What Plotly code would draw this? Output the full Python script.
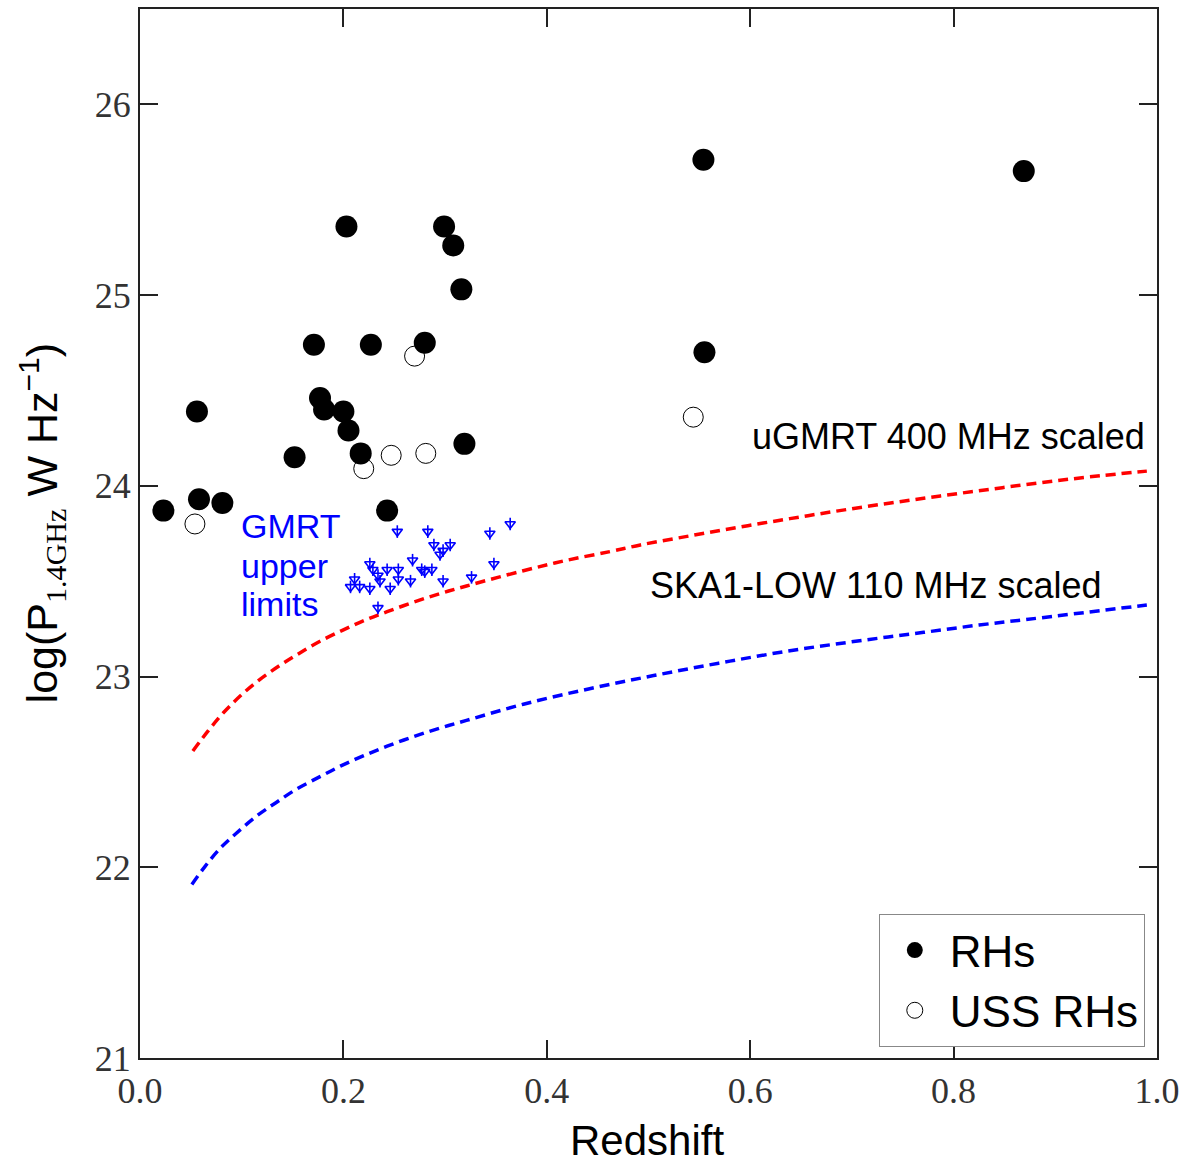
import plotly.graph_objects as go

# Radio halos (filled)
rh_z = [0.023, 0.056, 0.058, 0.081, 0.152, 0.171, 0.177, 0.181, 0.200, 0.205, 0.203,
        0.217, 0.227, 0.243, 0.299, 0.308, 0.316, 0.280, 0.319, 0.554, 0.555, 0.869]
rh_p = [23.87, 24.39, 23.93, 23.91, 24.15, 24.74, 24.46, 24.40, 24.39, 24.29, 25.36,
        24.17, 24.74, 23.87, 25.36, 25.26, 25.03, 24.75, 24.22, 25.71, 24.70, 25.65]

# USS radio halos (open)
uss_z = [0.054, 0.220, 0.247, 0.281, 0.270, 0.544]
uss_p = [23.80, 24.09, 24.16, 24.17, 24.68, 24.36]

# GMRT upper limits
ul_z = [0.253, 0.283, 0.344, 0.364, 0.289, 0.305, 0.298, 0.295, 0.268, 0.348,
        0.226, 0.229, 0.243, 0.254, 0.277, 0.287, 0.280, 0.234, 0.211, 0.254,
        0.236, 0.266, 0.298, 0.326, 0.207, 0.216, 0.226, 0.246, 0.234]
ul_p = [23.76, 23.76, 23.75, 23.80, 23.69, 23.69, 23.66, 23.64, 23.61, 23.59,
        23.59, 23.56, 23.56, 23.56, 23.56, 23.56, 23.55, 23.53, 23.51, 23.51,
        23.50, 23.50, 23.50, 23.52, 23.47, 23.47, 23.46, 23.46, 23.36]

# Sensitivity curves
ugmrt_z = [0.052, 0.067, 0.082, 0.100, 0.118, 0.138, 0.156, 0.177, 0.200, 0.221,
           0.243, 0.269, 0.295, 0.321, 0.377, 0.420, 0.462, 0.492, 0.541, 0.590,
           0.639, 0.688, 0.738, 0.787, 0.836, 0.885, 0.934, 0.990]
ugmrt_p = [22.61, 22.715, 22.81, 22.905, 22.985, 23.06, 23.12, 23.185, 23.245, 23.295,
           23.34, 23.39, 23.435, 23.475, 23.555, 23.61, 23.655, 23.69, 23.738, 23.784,
           23.828, 23.87, 23.91, 23.947, 23.982, 24.016, 24.047, 24.077]
ska_z = [0.051, 0.064, 0.079, 0.095, 0.115, 0.134, 0.154, 0.177, 0.197, 0.220,
         0.243, 0.269, 0.295, 0.321, 0.377, 0.441, 0.505, 0.569, 0.633, 0.697,
         0.761, 0.825, 0.889, 0.990]
ska_p = [21.91, 22.005, 22.10, 22.18, 22.27, 22.34, 22.41, 22.475, 22.53, 22.585,
         22.635, 22.685, 22.73, 22.77, 22.855, 22.935, 23.005, 23.07, 23.13, 23.18,
         23.225, 23.27, 23.31, 23.375]

x_ticks = [0.0, 0.2, 0.4, 0.6, 0.8, 1.0]
x_ticklabels = ["0.0", "0.2", "0.4", "0.6", "0.8", "1.0"]
y_ticks = [21, 22, 23, 24, 25, 26]
y_ticklabels = ["21", "22", "23", "24", "25", "26"]

SANS = "Liberation Sans, Arial, sans-serif"
SERIF = "Liberation Serif, Times New Roman, serif"
BLUE = "#0000ff"
RED = "#ff0000"

fig = go.Figure()

fig.add_trace(go.Scatter(x=ugmrt_z, y=ugmrt_p, mode="lines",
                         line=dict(color=RED, width=3.5, dash="10px,6px", shape="spline", smoothing=1.0),
                         showlegend=False, hoverinfo="skip"))
fig.add_trace(go.Scatter(x=ska_z, y=ska_p, mode="lines",
                         line=dict(color=BLUE, width=3.5, dash="10px,6px", shape="spline", smoothing=1.0),
                         showlegend=False, hoverinfo="skip"))

# upper-limit arrows: open caret + vertical stem
fig.add_trace(go.Scatter(x=ul_z, y=ul_p, mode="markers",
                         marker=dict(symbol="triangle-down-open", size=9, color=BLUE,
                                     line=dict(color=BLUE, width=1.6)),
                         showlegend=False))
fig.add_trace(go.Scatter(x=ul_z, y=ul_p, mode="markers",
                         marker=dict(symbol="line-ns-open", size=9, color=BLUE,
                                     line=dict(color=BLUE, width=1.6)),
                         showlegend=False))

fig.add_trace(go.Scatter(x=uss_z, y=uss_p, mode="markers", name="USS RHs",
                         legendrank=2,
                         marker=dict(symbol="circle-open", size=20, color="black",
                                     line=dict(color="black", width=1))))
fig.add_trace(go.Scatter(x=rh_z, y=rh_p, mode="markers", name="RHs",
                         legendrank=1,
                         marker=dict(symbol="circle", size=22, color="black")))

axis_common = dict(showgrid=False, zeroline=False, showline=True, linecolor="#222222",
                   linewidth=2, mirror="ticks", ticks="inside", ticklen=18,
                   tickwidth=1.5, tickcolor="#222222", automargin=False,
                   tickfont=dict(family=SERIF, size=36, color="#333333"))

fig.update_xaxes(range=[0, 1.0], tickvals=x_ticks, ticktext=x_ticklabels, **axis_common)
fig.update_yaxes(range=[21, 26.5], tickvals=y_ticks, ticktext=y_ticklabels, **axis_common)

fig.add_annotation(text="Redshift", xref="paper", yref="paper", x=0.4985, y=-0.079,
                   xanchor="center", yanchor="middle", showarrow=False,
                   font=dict(family=SANS, size=42, color="black"))
fig.add_annotation(text="log(P<sub><span style='font-family:Liberation Serif'>1.4GHz</span></sub> W Hz<sup>−1</sup>)",
                   xref="paper", yref="paper", x=-0.096, y=0.51, textangle=-90,
                   xanchor="center", yanchor="middle", showarrow=False,
                   font=dict(family=SANS, size=43, color="black"))

fig.add_annotation(text="uGMRT 400 MHz scaled", x=0.99, y=24.26, xref="x", yref="y",
                   xanchor="right", yanchor="middle", showarrow=False,
                   font=dict(family=SANS, size=36, color="black"))
fig.add_annotation(text="SKA1-LOW 110 MHz scaled", x=0.948, y=23.48, xref="x", yref="y",
                   xanchor="right", yanchor="middle", showarrow=False,
                   font=dict(family=SANS, size=36, color="black"))
for txt, yy in [("GMRT", 23.79), ("upper", 23.58), ("limits", 23.38)]:
    fig.add_annotation(text=txt, x=0.097, y=yy, xref="x", yref="y",
                       xanchor="left", yanchor="middle", align="left", showarrow=False,
                       font=dict(family=SANS, size=34, color=BLUE))

fig.update_layout(
    width=1181, height=1163,
    margin=dict(l=140, r=24, t=9, b=105),
    plot_bgcolor="white", paper_bgcolor="white",
    legend=dict(x=0.988, y=0.0105, xanchor="right", yanchor="bottom",
                bordercolor="#888888", borderwidth=1, bgcolor="white",
                font=dict(family=SANS, size=44, color="black"),
                itemwidth=60, tracegroupgap=0),
)

fig.write_html("out.html")
